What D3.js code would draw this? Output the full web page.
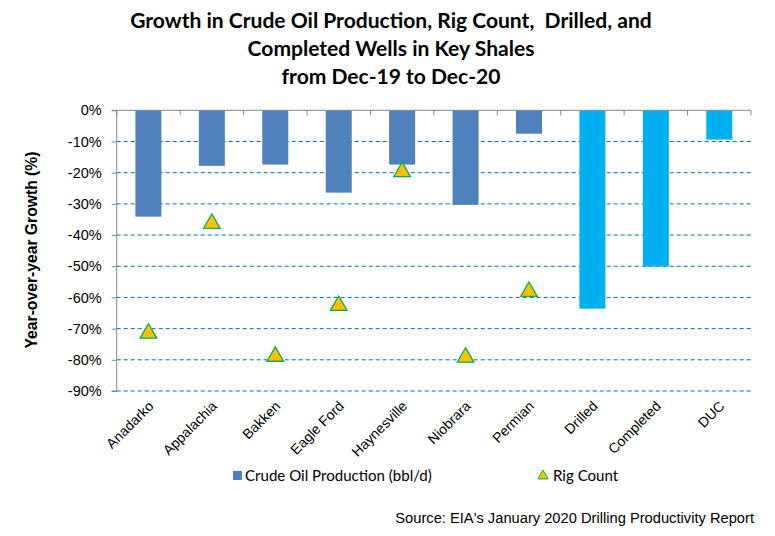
<!DOCTYPE html>
<html><head><meta charset="utf-8">
<script src="https://cdn.jsdelivr.net/npm/d3@7"></script>
<style>body{margin:0;background:#fff}svg{display:block}</style>
</head><body>
<script>
const categories = ["Anadarko","Appalachia","Bakken","Eagle Ford","Haynesville","Niobrara","Permian","Drilled","Completed","DUC"];
const oilProduction = [-34.1,-17.8,-17.4,-26.4,-17.4,-30.3,-7.5,null,null,null];
const wellsGrowth = [null,null,null,null,null,null,null,-63.6,-50.1,-9.4];
const rigCount = [-71.2,-36.0,-78.6,-62.3,-19.4,-78.9,-57.8,null,null,null];
const yTicks = [0,-10,-20,-30,-40,-50,-60,-70,-80,-90];
const titleLines = ["Growth in Crude Oil Production, Rig Count,  Drilled, and","Completed Wells in Key Shales","from Dec-19 to Dec-20"];

const W=775,H=536;
const svg=d3.select("body").append("svg").attr("width",W).attr("height",H);
const L=116.7,R=751,T=110.3,B=391;
const x=d3.scaleBand().domain(categories).range([L,R]).paddingInner(0.59).paddingOuter(0.295);
const xb=d3.scaleBand().domain(categories).range([L,R]);
const y=d3.scaleLinear().domain([0,-90]).range([T,B]);

// title
const tg=svg.append("g").attr("font-family","Lato, 'Open Sans', sans-serif").attr("font-weight","bold").attr("font-size",19).attr("fill","#000");
const tEls=titleLines.map((t,i)=>tg.append("text").attr("x",391).attr("y",28+i*28).attr("text-anchor","middle")
   .style("white-space","pre").text(t));
const w0=tEls[0].node().getComputedTextLength();
tg.attr("font-size",19*522/w0);

// gridlines
svg.append("g").selectAll("line").data(yTicks.filter(d=>d!==0)).join("line")
 .attr("x1",L).attr("x2",R).attr("y1",d=>y(d)).attr("y2",d=>y(d))
 .attr("stroke","#0070C0").attr("stroke-width",1).attr("stroke-dasharray","4,3");

// y axis
const ya=svg.append("g").attr("transform",`translate(${L},0)`)
 .call(d3.axisLeft(y).tickValues(yTicks).tickFormat(d=>d+"%").tickSize(5).tickPadding(10));
ya.select(".domain").attr("stroke","#868686");
ya.selectAll(".tick line").attr("stroke","#868686");
ya.selectAll(".tick text").attr("font-family","Arial, 'Liberation Sans', sans-serif").attr("font-size",14.5).attr("fill","#000");
ya.select(".domain").attr("d",`M-5,${T}H0V${B}H-5`);

// bars
svg.append("g").selectAll("rect").data(categories.map((c,i)=>({c,v:oilProduction[i]})).filter(d=>d.v!==null)).join("rect")
 .attr("x",d=>x(d.c)).attr("width",x.bandwidth()).attr("y",y(0)).attr("height",d=>y(d.v)-y(0)).attr("fill","#4F81BD");
svg.append("g").selectAll("rect").data(categories.map((c,i)=>({c,v:wellsGrowth[i]})).filter(d=>d.v!==null)).join("rect")
 .attr("x",d=>x(d.c)).attr("width",x.bandwidth()).attr("y",y(0)).attr("height",d=>y(d.v)-y(0)).attr("fill","#00B0F0");

// x axis at 0
const xa=svg.append("g").attr("transform",`translate(0,${T})`);
xa.append("line").attr("x1",L).attr("x2",R).attr("stroke","#868686");
xa.selectAll("line.tk").data(d3.range(categories.length+1)).join("line").attr("class","tk")
 .attr("x1",i=>L+i*xb.step()).attr("x2",i=>L+i*xb.step()).attr("y1",0).attr("y2",5).attr("stroke","#868686");

// x labels
svg.append("g").selectAll("text").data(categories).join("text")
 .attr("transform",d=>`translate(${xb(d)+xb.bandwidth()/2+6},${B+16}) rotate(-45)`)
 .attr("text-anchor","end").attr("font-family","Arial, 'Liberation Sans', sans-serif").attr("font-size",14).attr("fill","#000").text(d=>d);

// triangles
const tri=d3.symbol().type(d3.symbolTriangle).size(120);
svg.append("g").selectAll("path").data(categories.map((c,i)=>({c,v:rigCount[i]})).filter(d=>d.v!==null)).join("path")
 .attr("d",tri).attr("transform",d=>`translate(${xb(d.c)+xb.bandwidth()/2},${y(d.v)+1})`)
 .attr("fill","#FFC000").attr("stroke","#00B050").attr("stroke-width",1.3);

// y title
svg.append("text").attr("transform","translate(37,250) rotate(-90)").attr("text-anchor","middle")
 .attr("font-family","Arial, 'Liberation Sans', sans-serif").attr("font-weight","bold").attr("font-size",15.7).text("Year-over-year Growth (%)");

// legend
const lg=svg.append("g").attr("font-family","Lato, 'Open Sans', sans-serif").attr("font-size",15);
lg.append("rect").attr("x",233).attr("y",471).attr("width",9).attr("height",9).attr("fill","#4F81BD");
const lt=lg.append("text").attr("x",245).attr("y",481).text("Crude Oil Production (bbl/d)");
lg.append("path").attr("d",d3.symbol().type(d3.symbolTriangle).size(45)).attr("transform","translate(543,476)").attr("fill","#FFC000").attr("stroke","#00B050").attr("stroke-width",1);
lg.append("text").attr("x",553).attr("y",481).text("Rig Count");
const lw=lt.node().getComputedTextLength();
lg.attr("font-size",15*187/lw);

// source
svg.append("text").attr("x",754).attr("y",523).attr("text-anchor","end")
 .attr("font-family","Arial, 'Liberation Sans', sans-serif").attr("font-size",14.7).text("Source: EIA's January 2020 Drilling Productivity Report");
</script>
</body></html>
